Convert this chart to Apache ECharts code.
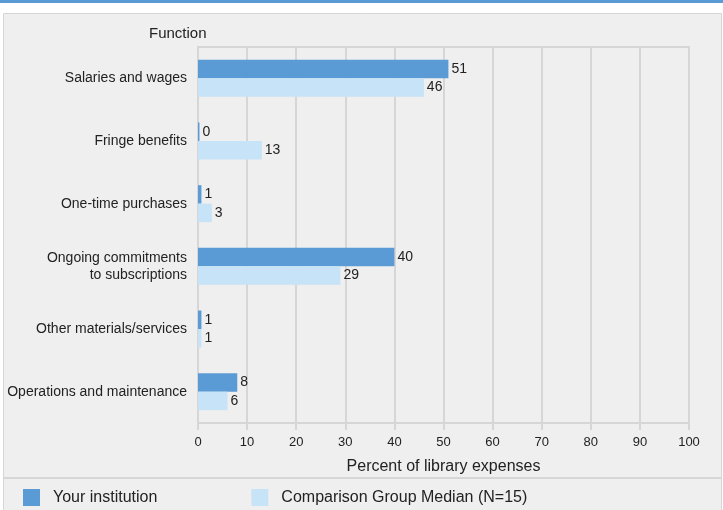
<!DOCTYPE html>
<html>
<head>
<meta charset="utf-8">
<script src="https://cdn.jsdelivr.net/npm/echarts@6/dist/echarts.min.js"></script>
<style>
  html, body { margin: 0; padding: 0; background: #fff; }
  #chart { width: 723px; height: 510px; }
</style>
</head>
<body>
<div id="chart"></div>
<script>
  const categories = [
    'Salaries and wages',
    'Fringe benefits',
    'One-time purchases',
    'Ongoing commitments\nto subscriptions',
    'Other materials/services',
    'Operations and maintenance',
  ];
  // bar lengths; labels show them rounded
  const yourInstitution = [51, 0.3, 0.7, 40, 0.7, 8];
  const comparisonMedian = [46, 13, 2.8, 29, 0.7, 6];
  const xTicks = [0, 10, 20, 30, 40, 50, 60, 70, 80, 90, 100];

  const gridColor = '#d6d6d6';
  const textColor = '#222';
  const font = '"Liberation Sans", Arial, sans-serif';

  const chart = echarts.init(document.getElementById('chart'));

  const labelOpt = {
    show: true,
    position: 'right',
    distance: 3,
    color: textColor,
    fontSize: 14,
    fontFamily: font,
    formatter: (p) => Math.round(p.value),
  };

  chart.setOption({
    animation: false,
    textStyle: { fontFamily: font },
    graphic: [
      { type: 'rect', shape: { x: 0, y: 0, width: 723, height: 3 }, style: { fill: '#5b9bd5' }, z: -10 },
      { type: 'rect', shape: { x: 3.5, y: 13.5, width: 718, height: 510 }, style: { fill: '#efefef', stroke: gridColor, lineWidth: 1 }, z: -10 },
      { type: 'rect', shape: { x: 4, y: 477, width: 718, height: 2 }, style: { fill: gridColor }, z: -9 },
    ],
    title: {
      text: 'Function',
      left: 144,
      top: 21,
      textStyle: { fontSize: 15, fontWeight: 'normal', color: textColor, fontFamily: font },
    },
    legend: {
      left: 18,
      top: 484,
      itemWidth: 17,
      itemHeight: 17,
      itemGap: 94,
      icon: 'rect',
      textStyle: { fontSize: 16, color: textColor, fontFamily: font, padding: [0, 0, 0, 8] },
      data: ['Your institution', 'Comparison Group Median (N=15)'],
    },
    grid: {
      left: 198,
      right: 34,
      top: 47,
      bottom: 87,
      show: true,
      borderColor: gridColor,
      borderWidth: 2,
    },
    xAxis: {
      type: 'value',
      min: 0,
      max: 100,
      interval: 10,
      name: 'Percent of library expenses',
      nameLocation: 'middle',
      nameGap: 36,
      nameTextStyle: { fontSize: 16, color: textColor, fontFamily: font },
      axisLine: { show: true, lineStyle: { color: gridColor, width: 2 } },
      axisTick: { show: true, length: 7, lineStyle: { color: gridColor, width: 2 } },
      axisLabel: {
        color: textColor,
        fontSize: 13,
        margin: 13,
        formatter: (v) => (xTicks.includes(v) ? String(v) : ''),
      },
      splitLine: { show: true, lineStyle: { color: gridColor, width: 2 } },
    },
    yAxis: {
      type: 'category',
      inverse: true,
      data: categories,
      axisLine: { show: true, lineStyle: { color: gridColor, width: 2 } },
      axisTick: { show: false },
      axisLabel: {
        color: textColor,
        fontSize: 14,
        margin: 11,
        lineHeight: 17,
        align: 'right',
      },
      splitLine: { show: false },
    },
    series: [
      {
        name: 'Your institution',
        type: 'bar',
        data: yourInstitution,
        barGap: '0%',
        barCategoryGap: '41%',
        itemStyle: { color: '#5b9bd5' },
        label: labelOpt,
      },
      {
        name: 'Comparison Group Median (N=15)',
        type: 'bar',
        data: comparisonMedian,
        barGap: '0%',
        barCategoryGap: '41%',
        itemStyle: { color: '#c6e3f7' },
        label: labelOpt,
      },
    ],
  });
</script>
</body>
</html>
